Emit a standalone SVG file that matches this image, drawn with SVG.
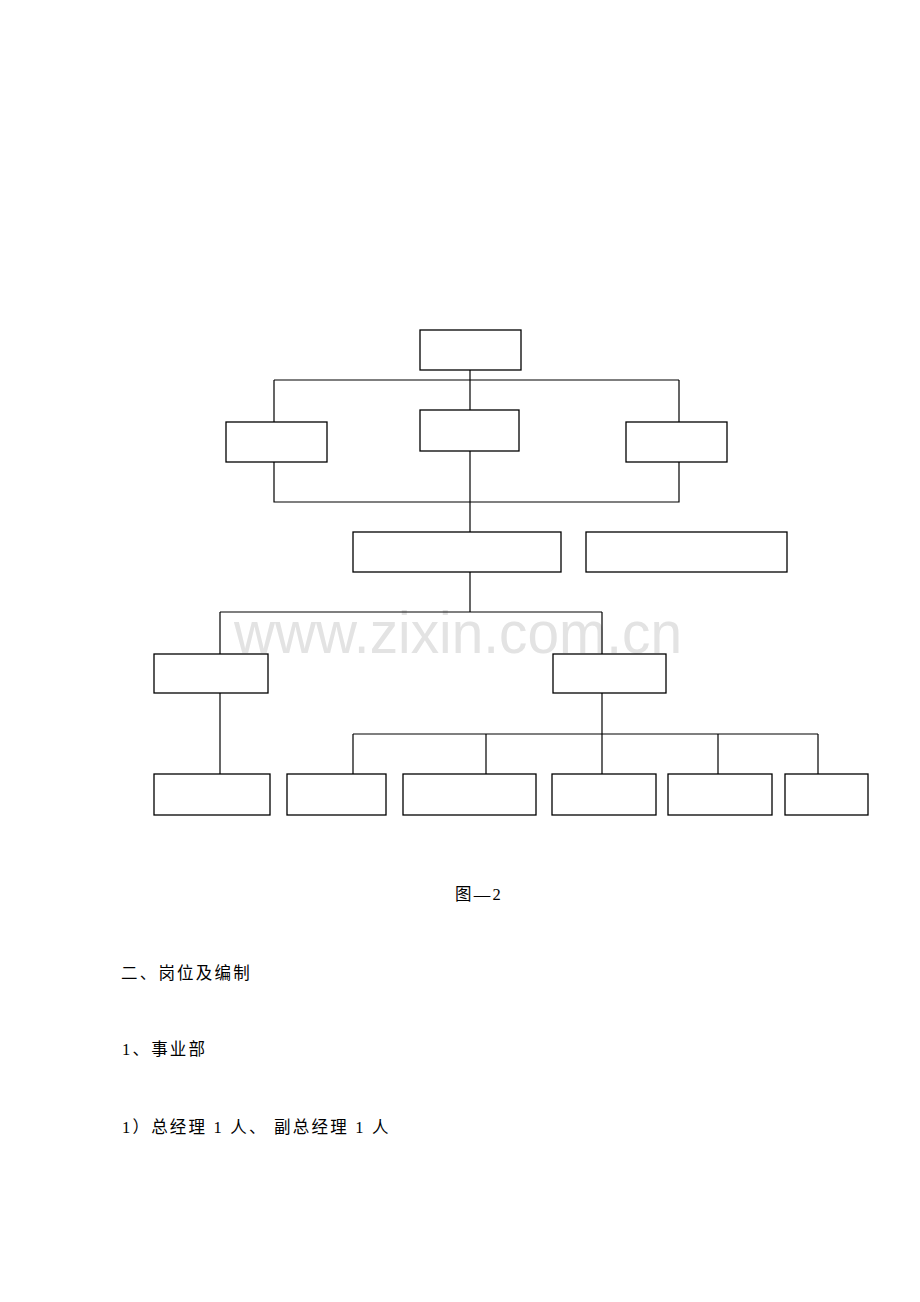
<svg xmlns="http://www.w3.org/2000/svg" width="920" height="1302" viewBox="0 0 920 1302">
<style>
.box{fill:#fff;stroke:#000;stroke-width:1.3}
.ln{fill:none;stroke:#000;stroke-width:1.2}
.t{font-family:"Liberation Serif","Noto Sans CJK SC",serif;font-size:16.5px;fill:#000;letter-spacing:2.2px}
.wm{font-family:"Liberation Sans",Arial,sans-serif;font-size:60px;fill:#e3e3e3}
</style>
<rect width="920" height="1302" fill="#fff"/>
<text class="wm" x="234" y="653" textLength="448" lengthAdjust="spacingAndGlyphs">www.zixin.com.cn</text>
<g id="connectors" class="ln">
<path d="M470 370V410"/>
<path d="M274 380H679"/>
<path d="M274 380V422M679 380V422"/>
<path d="M274 462V502H679V462"/>
<path d="M470 451V532"/>
<path d="M470 572V612"/>
<path d="M220 612H602"/>
<path d="M220 612V654M602 612V654"/>
<path d="M220 693V776"/>
<path d="M602 693V734"/>
<path d="M353 734H818"/>
<path d="M353 734V774M486 734V774M602 734V774M718 734V774M818 734V774"/>
</g>
<g id="n-top"><rect class="box" x="420" y="330" width="101" height="40"/></g>
<g id="n-left"><rect class="box" x="226" y="422" width="101" height="40"/></g>
<g id="n-mid"><rect class="box" x="420" y="410" width="99" height="41"/></g>
<g id="n-right"><rect class="box" x="626" y="422" width="101" height="40"/></g>
<g id="n-l2a"><rect class="box" x="353" y="532" width="208" height="40"/></g>
<g id="n-l2b"><rect class="box" x="586" y="532" width="201" height="40"/></g>
<g id="n-l3a"><rect class="box" x="154" y="654" width="114" height="39"/></g>
<g id="n-l3b"><rect class="box" x="553" y="654" width="113" height="39"/></g>
<g id="n-b1"><rect class="box" x="154" y="774" width="116" height="41"/></g>
<g id="n-b2"><rect class="box" x="287" y="774" width="99" height="41"/></g>
<g id="n-b3"><rect class="box" x="403" y="774" width="133" height="41"/></g>
<g id="n-b4"><rect class="box" x="552" y="774" width="104" height="41"/></g>
<g id="n-b5"><rect class="box" x="668" y="774" width="104" height="41"/></g>
<g id="n-b6"><rect class="box" x="785" y="774" width="83" height="41"/></g>
<g id="texts">
<text class="t" x="455" y="900">图—2</text>
<text class="t" x="121" y="979">二、岗位及编制</text>
<text class="t" x="122" y="1055">1、事业部</text>
<text class="t" x="122" y="1133">1）总经理 1 人、 副总经理 1 人</text>
</g>
</svg>
